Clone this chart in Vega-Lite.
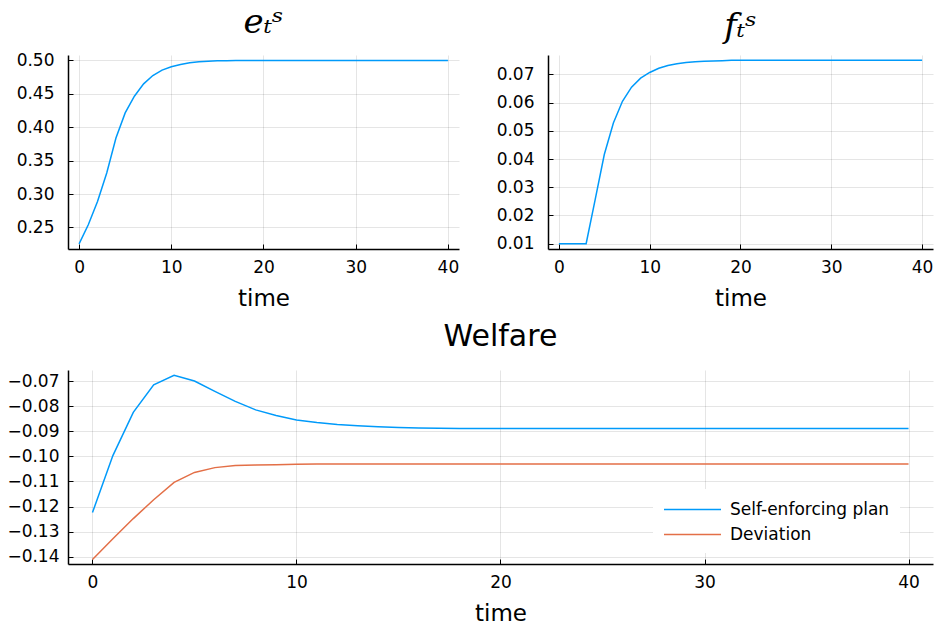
{
  "$schema": "https://vega.github.io/schema/vega-lite/v6.json",
  "padding": {"left": 6, "top": 6, "right": 2, "bottom": 3},
  "background": "white",
  "datasets": {
    "e": [
      {"t": 0, "value": 0.2255}, {"t": 1, "value": 0.254}, {"t": 2, "value": 0.289}, {"t": 3, "value": 0.3315},
      {"t": 4, "value": 0.384}, {"t": 5, "value": 0.4215}, {"t": 6, "value": 0.4465}, {"t": 7, "value": 0.465},
      {"t": 8, "value": 0.4775}, {"t": 9, "value": 0.4855}, {"t": 10, "value": 0.4905}, {"t": 11, "value": 0.494},
      {"t": 12, "value": 0.4965}, {"t": 13, "value": 0.498}, {"t": 14, "value": 0.499}, {"t": 15, "value": 0.4995},
      {"t": 16, "value": 0.4997}, {"t": 17, "value": 0.4998}, {"t": 18, "value": 0.4999}, {"t": 19, "value": 0.5},
      {"t": 20, "value": 0.5}, {"t": 21, "value": 0.5}, {"t": 22, "value": 0.5}, {"t": 23, "value": 0.5},
      {"t": 24, "value": 0.5}, {"t": 25, "value": 0.5}, {"t": 26, "value": 0.5}, {"t": 27, "value": 0.5},
      {"t": 28, "value": 0.5}, {"t": 29, "value": 0.5}, {"t": 30, "value": 0.5}, {"t": 31, "value": 0.5},
      {"t": 32, "value": 0.5}, {"t": 33, "value": 0.5}, {"t": 34, "value": 0.5}, {"t": 35, "value": 0.5},
      {"t": 36, "value": 0.5}, {"t": 37, "value": 0.5}, {"t": 38, "value": 0.5}, {"t": 39, "value": 0.5},
      {"t": 40, "value": 0.5}
    ],
    "f": [
      {"t": 0, "value": 0.01}, {"t": 1, "value": 0.01}, {"t": 2, "value": 0.01}, {"t": 3, "value": 0.01},
      {"t": 4, "value": 0.0257}, {"t": 5, "value": 0.0416}, {"t": 6, "value": 0.0528}, {"t": 7, "value": 0.0605},
      {"t": 8, "value": 0.0655}, {"t": 9, "value": 0.0687}, {"t": 10, "value": 0.0707}, {"t": 11, "value": 0.0722},
      {"t": 12, "value": 0.0732}, {"t": 13, "value": 0.0738}, {"t": 14, "value": 0.0742}, {"t": 15, "value": 0.0745},
      {"t": 16, "value": 0.0747}, {"t": 17, "value": 0.0748}, {"t": 18, "value": 0.0749}, {"t": 19, "value": 0.075},
      {"t": 20, "value": 0.075}, {"t": 21, "value": 0.075}, {"t": 22, "value": 0.075}, {"t": 23, "value": 0.075},
      {"t": 24, "value": 0.075}, {"t": 25, "value": 0.075}, {"t": 26, "value": 0.075}, {"t": 27, "value": 0.075},
      {"t": 28, "value": 0.075}, {"t": 29, "value": 0.075}, {"t": 30, "value": 0.075}, {"t": 31, "value": 0.075},
      {"t": 32, "value": 0.075}, {"t": 33, "value": 0.075}, {"t": 34, "value": 0.075}, {"t": 35, "value": 0.075},
      {"t": 36, "value": 0.075}, {"t": 37, "value": 0.075}, {"t": 38, "value": 0.075}, {"t": 39, "value": 0.075},
      {"t": 40, "value": 0.075}
    ],
    "welfare": [
      {"t": 0, "series": "Self-enforcing plan", "value": -0.1224}, {"t": 1, "series": "Self-enforcing plan", "value": -0.0997},
      {"t": 2, "series": "Self-enforcing plan", "value": -0.0825}, {"t": 3, "series": "Self-enforcing plan", "value": -0.0715},
      {"t": 4, "series": "Self-enforcing plan", "value": -0.0677}, {"t": 5, "series": "Self-enforcing plan", "value": -0.0700},
      {"t": 6, "series": "Self-enforcing plan", "value": -0.0741}, {"t": 7, "series": "Self-enforcing plan", "value": -0.0781},
      {"t": 8, "series": "Self-enforcing plan", "value": -0.0815}, {"t": 9, "series": "Self-enforcing plan", "value": -0.0837},
      {"t": 10, "series": "Self-enforcing plan", "value": -0.0855}, {"t": 11, "series": "Self-enforcing plan", "value": -0.0865},
      {"t": 12, "series": "Self-enforcing plan", "value": -0.0873}, {"t": 13, "series": "Self-enforcing plan", "value": -0.0878},
      {"t": 14, "series": "Self-enforcing plan", "value": -0.0882}, {"t": 15, "series": "Self-enforcing plan", "value": -0.0885},
      {"t": 16, "series": "Self-enforcing plan", "value": -0.0887}, {"t": 17, "series": "Self-enforcing plan", "value": -0.0888},
      {"t": 18, "series": "Self-enforcing plan", "value": -0.0889}, {"t": 19, "series": "Self-enforcing plan", "value": -0.0889},
      {"t": 20, "series": "Self-enforcing plan", "value": -0.0889}, {"t": 21, "series": "Self-enforcing plan", "value": -0.0889},
      {"t": 22, "series": "Self-enforcing plan", "value": -0.0889}, {"t": 23, "series": "Self-enforcing plan", "value": -0.0889},
      {"t": 24, "series": "Self-enforcing plan", "value": -0.0889}, {"t": 25, "series": "Self-enforcing plan", "value": -0.0889},
      {"t": 26, "series": "Self-enforcing plan", "value": -0.0889}, {"t": 27, "series": "Self-enforcing plan", "value": -0.0889},
      {"t": 28, "series": "Self-enforcing plan", "value": -0.0889}, {"t": 29, "series": "Self-enforcing plan", "value": -0.0889},
      {"t": 30, "series": "Self-enforcing plan", "value": -0.0889}, {"t": 31, "series": "Self-enforcing plan", "value": -0.0889},
      {"t": 32, "series": "Self-enforcing plan", "value": -0.0889}, {"t": 33, "series": "Self-enforcing plan", "value": -0.0889},
      {"t": 34, "series": "Self-enforcing plan", "value": -0.0889}, {"t": 35, "series": "Self-enforcing plan", "value": -0.0889},
      {"t": 36, "series": "Self-enforcing plan", "value": -0.0889}, {"t": 37, "series": "Self-enforcing plan", "value": -0.0889},
      {"t": 38, "series": "Self-enforcing plan", "value": -0.0889}, {"t": 39, "series": "Self-enforcing plan", "value": -0.0889},
      {"t": 40, "series": "Self-enforcing plan", "value": -0.0889},
      {"t": 0, "series": "Deviation", "value": -0.1411}, {"t": 1, "series": "Deviation", "value": -0.1328},
      {"t": 2, "series": "Deviation", "value": -0.1248}, {"t": 3, "series": "Deviation", "value": -0.1173},
      {"t": 4, "series": "Deviation", "value": -0.1104}, {"t": 5, "series": "Deviation", "value": -0.1064},
      {"t": 6, "series": "Deviation", "value": -0.1045}, {"t": 7, "series": "Deviation", "value": -0.1037},
      {"t": 8, "series": "Deviation", "value": -0.1035}, {"t": 9, "series": "Deviation", "value": -0.1034},
      {"t": 10, "series": "Deviation", "value": -0.1032}, {"t": 11, "series": "Deviation", "value": -0.1031},
      {"t": 12, "series": "Deviation", "value": -0.1031}, {"t": 13, "series": "Deviation", "value": -0.1031},
      {"t": 14, "series": "Deviation", "value": -0.1031}, {"t": 15, "series": "Deviation", "value": -0.1031},
      {"t": 16, "series": "Deviation", "value": -0.1031}, {"t": 17, "series": "Deviation", "value": -0.1031},
      {"t": 18, "series": "Deviation", "value": -0.1031}, {"t": 19, "series": "Deviation", "value": -0.1031},
      {"t": 20, "series": "Deviation", "value": -0.1031}, {"t": 21, "series": "Deviation", "value": -0.1031},
      {"t": 22, "series": "Deviation", "value": -0.1031}, {"t": 23, "series": "Deviation", "value": -0.1031},
      {"t": 24, "series": "Deviation", "value": -0.1031}, {"t": 25, "series": "Deviation", "value": -0.1031},
      {"t": 26, "series": "Deviation", "value": -0.1031}, {"t": 27, "series": "Deviation", "value": -0.1031},
      {"t": 28, "series": "Deviation", "value": -0.1031}, {"t": 29, "series": "Deviation", "value": -0.1031},
      {"t": 30, "series": "Deviation", "value": -0.1031}, {"t": 31, "series": "Deviation", "value": -0.1031},
      {"t": 32, "series": "Deviation", "value": -0.1031}, {"t": 33, "series": "Deviation", "value": -0.1031},
      {"t": 34, "series": "Deviation", "value": -0.1031}, {"t": 35, "series": "Deviation", "value": -0.1031},
      {"t": 36, "series": "Deviation", "value": -0.1031}, {"t": 37, "series": "Deviation", "value": -0.1031},
      {"t": 38, "series": "Deviation", "value": -0.1031}, {"t": 39, "series": "Deviation", "value": -0.1031},
      {"t": 40, "series": "Deviation", "value": -0.1031}
    ]
  },
  "config": {
    "font": "DejaVu Sans",
    "view": {"stroke": null},
    "axis": {
      "domainColor": "#000", "domainWidth": 1.5,
      "tickColor": "#000", "tickSize": -5, "tickWidth": 1,
      "labelFontSize": 17, "labelColor": "#000",
      "titleFontSize": 23, "titleFontWeight": "normal", "titleColor": "#000", "titlePadding": 12,
      "gridColor": "#000", "gridOpacity": 0.1, "gridWidth": 1
    },
    "axisX": {"labelPadding": 15},
    "axisY": {"labelPadding": 19},
    "title": {"fontWeight": "normal", "color": "#000"},
    "legend": {
      "fillColor": "white", "padding": 10, "labelFontSize": 17, "labelColor": "#000",
      "symbolType": "M-1,0H5", "symbolSize": 361, "symbolStrokeWidth": 1.5, "labelOffset": 46, "rowPadding": 6
    }
  },
  "spacing": 12,
  "vconcat": [
    {
      "spacing": 37,
      "hconcat": [
        {
          "data": {"name": "e"},
          "title": {"text": "eₜˢ", "font": "DejaVu Serif", "fontStyle": "italic", "fontSize": 34, "offset": 11},
          "width": 391, "height": 194,
          "mark": {"type": "line", "color": "#009AFA", "strokeWidth": 1.5},
          "encoding": {
            "x": {"field": "t", "type": "quantitative", "scale": {"domain": [-1.2, 41.2], "nice": false, "zero": false},
                  "axis": {"values": [0, 10, 20, 30, 40], "title": "time"}},
            "y": {"field": "value", "type": "quantitative", "scale": {"domain": [0.2178, 0.5082], "nice": false, "zero": false},
                  "axis": {"values": [0.25, 0.3, 0.35, 0.4, 0.45, 0.5], "format": ".2f", "title": null}}
          }
        },
        {
          "data": {"name": "f"},
          "title": {"text": "fₜˢ", "font": "DejaVu Serif", "fontStyle": "italic", "fontSize": 34, "offset": 11},
          "width": 385, "height": 194,
          "mark": {"type": "line", "color": "#009AFA", "strokeWidth": 1.5},
          "encoding": {
            "x": {"field": "t", "type": "quantitative", "scale": {"domain": [-1.2, 41.2], "nice": false, "zero": false},
                  "axis": {"values": [0, 10, 20, 30, 40], "title": "time"}},
            "y": {"field": "value", "type": "quantitative", "scale": {"domain": [0.0081, 0.0769], "nice": false, "zero": false},
                  "axis": {"values": [0.01, 0.02, 0.03, 0.04, 0.05, 0.06, 0.07], "format": ".2f", "title": null}}
          }
        }
      ]
    },
    {
      "data": {"name": "welfare"},
      "title": {"text": "Welfare", "fontSize": 30, "offset": 18},
      "width": 865, "height": 194,
      "mark": {"type": "line", "strokeWidth": 1.5},
      "encoding": {
        "x": {"field": "t", "type": "quantitative", "scale": {"domain": [-1.2, 41.2], "nice": false, "zero": false},
              "axis": {"values": [0, 10, 20, 30, 40], "title": "time"}},
        "y": {"field": "value", "type": "quantitative", "scale": {"domain": [-0.1429, -0.0656], "nice": false, "zero": false},
              "axis": {"values": [-0.14, -0.13, -0.12, -0.11, -0.1, -0.09, -0.08, -0.07], "format": ".2f", "title": null, "labelPadding": 14}},
        "color": {"field": "series", "type": "nominal",
                  "scale": {"domain": ["Self-enforcing plan", "Deviation"], "range": ["#009AFA", "#E36F47"]},
                  "legend": {"title": null, "orient": "none", "legendX": 585, "legendY": 434}}
      }
    }
  ]
}
